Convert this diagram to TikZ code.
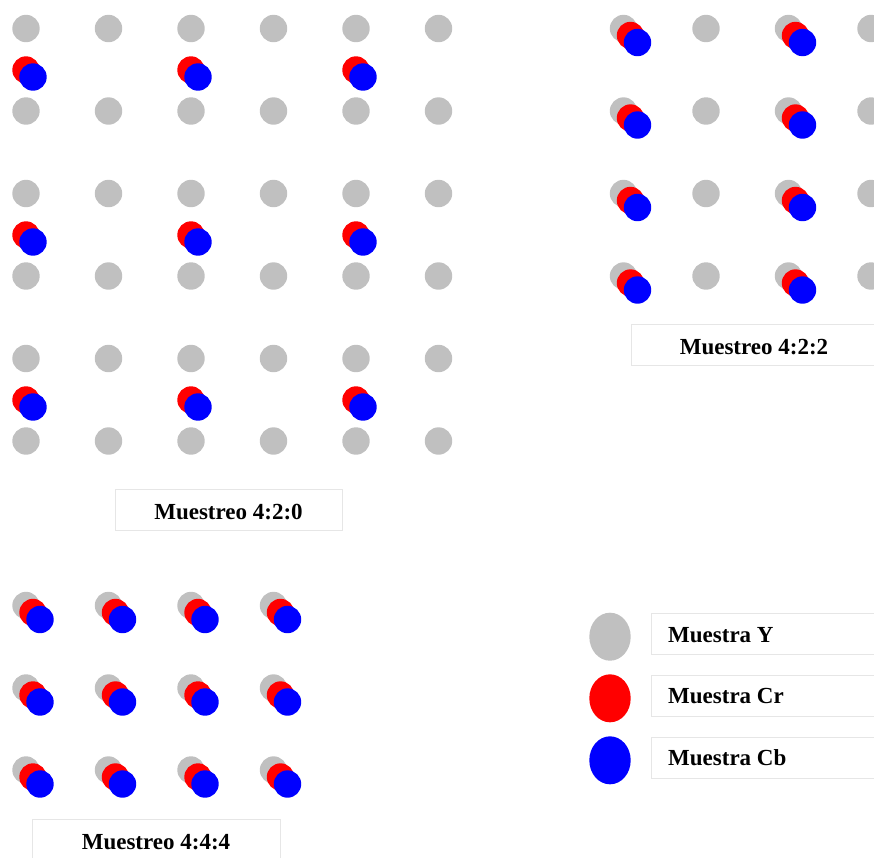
\documentclass[tikz,border=0pt]{standalone}
\usepackage{fontspec}
\setmainfont{Liberation Serif}
\usetikzlibrary{shapes.geometric}
\definecolor{ygray}{HTML}{C0C0C0}
\definecolor{crred}{HTML}{FF0000}
\definecolor{cbblue}{HTML}{0000FF}
\definecolor{boxline}{HTML}{E6E6E6}
\tikzset{
  dot/.style={circle, inner sep=0pt, minimum size=27.4pt, draw=none},
  ydot/.style={dot, fill=ygray},
  rdot/.style={dot, fill=crred},
  bdot/.style={dot, fill=cbblue},
  legdot/.style={ellipse, inner sep=0pt, minimum width=41.4pt, minimum height=48pt, draw=none},
  labelbox/.style={draw=boxline, line width=0.9pt, fill=white},
  labeltext/.style={font=\fontsize{23}{27}\selectfont\bfseries, inner sep=0pt, anchor=base},
  legtext/.style={font=\fontsize{23}{27}\selectfont\bfseries, inner sep=0pt, anchor=base west},
}
\begin{document}
\begin{tikzpicture}[x=1pt, y=-1pt]
\useasboundingbox (0,0) rectangle (874,857);
% ---------- 4:2:0 ----------
\foreach \c/\x in {1/26,2/108.5,3/191,4/273.5,5/356,6/438.5}{
  \foreach \r/\y in {1/28.5,2/111,3/193.5,4/276,5/358.5,6/441}{
    \node[ydot] (a\c\r) at (\x,\y) {};
  }
}
\foreach \c/\x in {1/26,3/191,5/356}{
  \foreach \r/\y in {1/70,2/235,3/400}{
    \node[rdot] (ar\c\r) at (\x,\y) {};
    \node[bdot] (ab\c\r) at (\x+7,\y+7) {};
  }
}
\draw[labelbox] (115,489) rectangle (342,530);
\node[labeltext] (t420) at (228.5,519.3) {Muestreo 4:2:0};
% ---------- 4:2:2 ----------
\foreach \c/\x in {1/623.5,2/706,3/788.5,4/871}{
  \foreach \r/\y in {1/28.5,2/111,3/193.5,4/276}{
    \node[ydot] (b\c\r) at (\x,\y) {};
  }
}
\foreach \c/\x in {1/623.5,3/788.5}{
  \foreach \r/\y in {1/28.5,2/111,3/193.5,4/276}{
    \node[rdot] (br\c\r) at (\x+7,\y+7) {};
    \node[bdot] (bb\c\r) at (\x+14,\y+14) {};
  }
}
\draw[labelbox] (631,324) rectangle (878,365);
\node[labeltext] (t422) at (754,354.3) {Muestreo 4:2:2};
% ---------- 4:4:4 ----------
\foreach \c/\x in {1/26,2/108.5,3/191,4/273.5}{
  \foreach \r/\y in {1/605.5,2/688,3/770}{
    \node[ydot] (c\c\r) at (\x,\y) {};
    \node[rdot] (cr\c\r) at (\x+7,\y+7) {};
    \node[bdot] (cb\c\r) at (\x+14,\y+14) {};
  }
}
\draw[labelbox] (32,819) rectangle (280,862);
\node[labeltext] (t444) at (156,849.3) {Muestreo 4:4:4};
% ---------- legend ----------
\node[legdot, fill=ygray] (ly) at (610,636.7) {};
\node[legdot, fill=crred] (lr) at (610,698.3) {};
\node[legdot, fill=cbblue] (lb) at (610,760.3) {};
\draw[labelbox] (651,613) rectangle (880,654);
\draw[labelbox] (651,675) rectangle (880,716);
\draw[labelbox] (651,737) rectangle (880,778);
\node[legtext] (tly) at (668,642.7) {Muestra Y};
\node[legtext] (tlr) at (668,703.3) {Muestra Cr};
\node[legtext] (tlb) at (668,765.7) {Muestra Cb};
\end{tikzpicture}
\end{document}
